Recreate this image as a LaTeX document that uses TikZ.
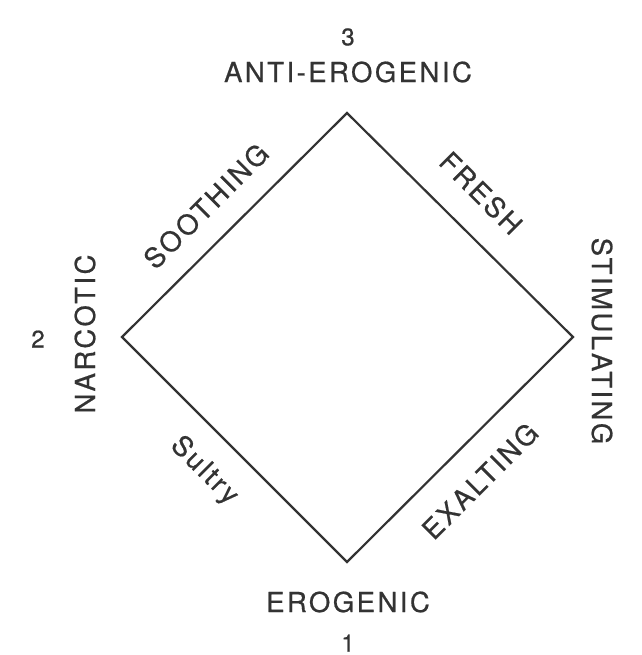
\documentclass[tikz,border=0pt]{standalone}
\usepackage{fontspec}
\setmainfont{TeX Gyre Heros}[LetterSpace=9,FakeBold=0.6]
\definecolor{ink}{HTML}{333333}
\begin{document}
\begin{tikzpicture}[x=1pt,y=-1pt,
  lbl/.style={text=ink,font=\fontsize{27.5}{30}\selectfont,inner sep=0pt},
  num/.style={text=ink,font=\fontsize{24}{26}\selectfont,inner sep=0pt},
  edge/.style={draw=ink,line width=2.2pt,line join=miter}]
\useasboundingbox (0,0) rectangle (641,655);
\fill[white] (0,0) rectangle (641,655);
\coordinate (T) at (347,113);
\coordinate (L) at (122,337);
\coordinate (R) at (573,337);
\coordinate (B) at (347,562);
\draw[edge] (T) -- (R) -- (B) -- (L) -- cycle;
% vertex labels
\node[num] (n3) at (348,37) {3};
\node[lbl] (anti) at (348,72) {ANTI-EROGENIC};
\node[lbl] (ero) at (348,602) {EROGENIC};
\node[num] (n1) at (348,643) {1};
\node[num] (n2) at (38,339) {2};
\node[lbl,rotate=90] (narc) at (85,334) {NARCOTIC};
\node[lbl,rotate=-90] (stim) at (602,341) {STIMULATING};
% edge labels
\node[lbl,rotate=45] (sooth) at (206,206) {SOOTHING};
\node[lbl,rotate=-45] (fresh) at (481,193) {FRESH};
\node[lbl,rotate=-45] (sultry) at (204,471) {Sultry};
\node[lbl,rotate=45] (exalt) at (480,481) {EXALTING};
\end{tikzpicture}
\end{document}
